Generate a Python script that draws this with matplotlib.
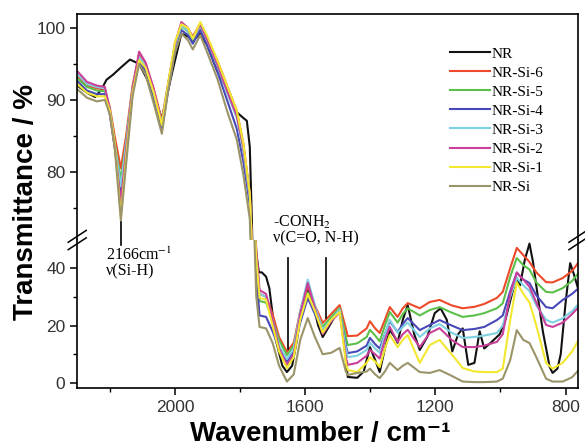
import numpy as np
import matplotlib
matplotlib.use('Agg')
import matplotlib.pyplot as plt

# wavenumber grid for the NR-Si series (cm-1)
wn = [2300, 2270, 2240, 2215, 2200, 2185, 2166, 2150, 2130, 2110, 2090, 2065, 2040, 2020,
      2000, 1980, 1960, 1945, 1922, 1900, 1870, 1840, 1810, 1790, 1770, 1758, 1750, 1740,
      1720, 1700, 1680, 1656, 1635, 1615, 1592, 1570, 1546, 1520, 1494, 1475, 1469, 1440,
      1411, 1401, 1385, 1371, 1355, 1340, 1316, 1300, 1285, 1248, 1217, 1187, 1150, 1116,
      1080, 1050, 1011, 993, 970, 950, 930, 911, 890, 860, 840, 809, 780, 760]

nr_si_6 = [93.3, 92.0, 91.6, 91.5, 89.0, 85.0, 80.5, 85.0, 92.0, 96.3, 95.0, 91.5, 87.2, 92.5,
           97.5, 100.5, 99.8, 98.8, 100.6, 98.5, 95.5, 92.0, 88.5, 84.0, 77.0, 65.0, 45.0, 31.0,
           30.0, 24.0, 16.0, 10.8, 14.0, 25.0, 33.7, 27.0, 20.9, 24.0, 27.1, 19.0, 16.3, 16.5,
           19.0, 21.5, 19.0, 17.4, 22.0, 26.4, 23.0, 26.0, 27.8, 26.0, 28.2, 28.9, 27.0, 26.0,
           26.5, 27.5, 29.6, 31.7, 40.0, 47.0, 44.5, 42.1, 38.5, 35.1, 35.0, 36.5, 39.0, 42.0]
nr_si_5 = [93.0, 91.8, 91.3, 91.2, 88.5, 84.0, 79.0, 84.0, 91.5, 95.7, 94.5, 91.0, 86.8, 92.0,
           97.2, 100.2, 99.5, 98.3, 100.2, 98.2, 95.0, 91.5, 88.0, 83.5, 76.5, 63.0, 42.0, 28.5,
           28.0, 22.0, 15.0, 9.7, 13.0, 23.5, 31.5, 25.5, 19.5, 23.0, 26.0, 16.0, 13.2, 13.8,
           16.0, 18.5, 16.5, 14.5, 20.0, 24.7, 21.0, 24.0, 26.0, 23.5, 25.4, 26.4, 24.5, 23.0,
           23.5, 24.3, 26.0, 27.7, 37.0, 43.5, 41.0, 39.5, 35.0, 31.7, 31.5, 33.0, 35.5, 38.3]
nr_si_4 = [92.6, 91.3, 90.8, 90.8, 88.0, 83.5, 77.0, 83.0, 91.0, 95.3, 94.0, 90.3, 86.0, 91.5,
           96.8, 99.7, 99.0, 97.8, 99.7, 97.5, 94.0, 90.0, 86.0, 81.5, 75.5, 62.0, 38.0, 23.5,
           23.0, 18.0, 12.0, 7.5, 11.0, 21.0, 29.6, 24.0, 18.0, 22.0, 24.5, 13.0, 10.4, 11.0,
           13.0, 15.7, 13.5, 12.0, 17.0, 21.5, 17.7, 20.5, 22.6, 18.4, 20.2, 21.9, 20.0, 18.4,
           18.8, 19.5, 21.9, 23.5, 32.0, 38.3, 36.0, 34.8, 30.5, 26.4, 26.0, 28.9, 31.0, 33.0]
nr_si_3 = [93.6, 92.2, 91.8, 91.6, 88.5, 84.0, 78.0, 84.0, 91.5, 96.0, 94.7, 91.0, 86.8, 92.2,
           97.5, 100.3, 99.6, 98.5, 100.3, 98.2, 94.8, 91.0, 87.5, 83.0, 76.5, 64.0, 44.0, 31.0,
           30.0, 22.0, 13.0, 8.3, 12.0, 25.0, 36.0, 27.0, 18.5, 22.0, 25.5, 12.0, 9.0, 9.5,
           11.5, 14.0, 12.0, 10.5, 17.0, 22.0, 17.5, 19.5, 21.0, 16.0, 19.0, 20.5, 17.5, 15.7,
           16.0, 16.5, 17.4, 20.0, 30.0, 36.5, 34.0, 32.0, 27.0, 22.0, 21.0, 22.5, 25.0, 27.5]
nr_si_2 = [94.0, 92.5, 92.0, 91.8, 88.5, 83.5, 75.8, 83.0, 91.5, 96.7, 95.2, 91.5, 86.5, 92.3,
           97.8, 100.8, 100.0, 98.6, 100.5, 98.3, 95.0, 91.3, 87.8, 83.5, 77.0, 65.0, 46.0, 32.3,
           31.0, 22.0, 12.0, 6.3, 10.0, 24.0, 34.8, 26.0, 17.0, 21.5, 24.5, 9.0, 6.3, 7.0,
           9.5, 11.5, 10.0, 8.5, 15.0, 19.5, 14.3, 17.0, 18.5, 12.5, 17.4, 19.1, 15.0, 12.5,
           12.5, 13.0, 14.3, 17.0, 31.0, 38.5, 36.0, 33.5, 28.0, 20.2, 19.5, 21.0, 24.0, 26.4]
nr_si_1 = [92.2, 91.0, 90.5, 90.5, 88.5, 84.0, 73.8, 82.0, 91.0, 95.5, 94.5, 91.0, 86.5, 92.5,
           98.0, 100.5, 100.0, 98.5, 100.8, 98.8, 95.5, 92.0, 88.5, 84.0, 77.0, 64.0, 43.0, 29.6,
           29.0, 20.0, 11.0, 5.2, 9.0, 22.0, 31.0, 25.0, 17.5, 22.0, 24.7, 7.0, 4.5, 3.8,
           7.0, 9.0, 7.5, 5.5, 12.0, 16.7, 12.5, 15.0, 16.7, 7.0, 13.2, 15.0, 10.0, 5.2,
           4.0, 3.8, 3.8, 5.0, 22.0, 35.0, 31.0, 28.0, 20.0, 7.0, 5.0, 7.0, 11.0, 15.0]
nr_si = [91.5, 90.3, 89.8, 90.0, 88.0, 83.5, 73.3, 81.0, 90.5, 95.0, 93.5, 89.5, 85.3, 91.5,
         96.5, 99.2, 98.3, 97.0, 99.0, 96.5, 93.0, 88.5, 84.5, 79.7, 73.5, 58.0, 30.0, 19.5,
         19.0, 14.0, 6.0, 0.5, 3.0, 15.0, 22.6, 16.0, 10.0, 10.5, 12.2, 4.0, 2.8, 3.5,
         4.0, 5.0, 3.0, 1.7, 4.0, 7.0, 4.5, 6.0, 7.0, 3.8, 3.5, 4.5, 2.5, 0.5,
         0.3, 0.3, 0.5, 1.5, 8.0, 18.4, 15.0, 13.9, 9.0, 1.5, 0.5, 0.5, 2.0, 4.5]

# neat NR has its own sampling (more wiggles)
wn_nr = [2300, 2270, 2245, 2225, 2210, 2190, 2166, 2138, 2110, 2075, 2040, 2010, 1980, 1960,
         1945, 1922, 1900, 1870, 1840, 1810, 1790, 1779, 1770, 1764, 1757, 1750, 1742, 1733,
         1720, 1710, 1690, 1670, 1656, 1640, 1625, 1610, 1592, 1575, 1560, 1546, 1525, 1500,
         1490, 1475, 1469, 1440, 1420, 1401, 1385, 1371, 1355, 1340, 1325, 1316, 1300, 1285,
         1265, 1248, 1225, 1202, 1184, 1165, 1148, 1130, 1116, 1099, 1080, 1064, 1050, 1030,
         1002, 985, 960, 950, 940, 925, 911, 900, 889, 870, 849, 840, 825, 815, 800, 786,
         775, 763]
nr = [92.0, 91.0, 90.4, 91.5, 92.8, 93.5, 94.5, 95.6, 95.0, 92.0, 87.4, 93.5, 99.2, 98.8,
      98.2, 99.2, 97.5, 94.0, 91.5, 88.3, 87.5, 87.1, 83.5, 74.0, 60.0, 45.0, 38.5, 38.5,
      37.0, 33.0, 15.0, 6.0, 3.8, 6.0, 15.0, 27.0, 32.5, 27.0, 20.0, 16.0, 20.0, 25.0,
      24.0, 8.0, 2.1, 1.8, 4.0, 12.5, 8.0, 3.8, 12.0, 18.4, 16.0, 14.0, 22.0, 27.1,
      17.0, 11.5, 16.0, 24.3, 26.0, 22.0, 11.0, 17.0, 19.0, 6.3, 7.0, 18.0, 12.0, 14.0,
      17.0, 22.0, 33.0, 36.5, 34.0, 43.0, 48.5, 42.0, 33.0, 18.0, 5.6, 3.5, 5.0, 10.0, 28.0, 41.7,
      38.0, 33.4]

labels = ['NR', 'NR-Si-6', 'NR-Si-5', 'NR-Si-4', 'NR-Si-3', 'NR-Si-2', 'NR-Si-1', 'NR-Si']
colors = ['#111111', '#ee4a2a', '#5cbf4a', '#4848b8', '#7fd0e0', '#c8409a', '#f2e830', '#9a9468']

serif = ['Liberation Serif', 'DejaVu Serif']
sans = ['Liberation Sans', 'DejaVu Sans']
plt.rcParams['font.family'] = sans

fig = plt.figure(figsize=(5.85, 4.47), dpi=100)
ax_top = fig.add_axes([0.132, 0.463, 0.856, 0.506])
ax_bot = fig.add_axes([0.132, 0.132, 0.856, 0.331])

series = [(wn_nr, nr)] + [(wn, s) for s in [nr_si_6, nr_si_5, nr_si_4, nr_si_3, nr_si_2, nr_si_1, nr_si]]
for ax in (ax_top, ax_bot):
    for (x, y), c, lab in zip(series, colors, labels):
        ax.plot(x, y, color=c, lw=1.5, label=lab)
    ax.set_xlim(2300, 762)
    for s in ax.spines.values():
        s.set_linewidth(1.2)
    ax.tick_params(labelsize=12.5, labelcolor='#333333', direction='out', length=5, width=1.1)
    ax.tick_params(which='minor', length=3, width=1.0)

ax_top.set_ylim(70.56, 101.94)
ax_bot.set_ylim(-1.74, 49.74)
ax_top.set_yticks([80, 90, 100])
ax_top.set_yticks([75, 85, 95], minor=True)
ax_bot.set_yticks([0, 20, 40])
ax_bot.set_yticks([10, 30], minor=True)
ax_top.spines['bottom'].set_visible(False)
ax_bot.spines['top'].set_visible(False)
ax_top.tick_params(axis='x', which='both', bottom=False, labelbottom=False)
ax_bot.set_xticks([2000, 1600, 1200, 800])
ax_bot.set_xticks([2200, 1800, 1400, 1000], minor=True)

# break marks on both spines
for xa in (0.0, 1.0):
    for dy in (-0.025, 0.025):
        ax_bot.plot([xa - 0.018, xa + 0.018], [1 + dy - 0.04, 1 + dy + 0.04], color='k',
                    lw=1.1, transform=ax_bot.transAxes, clip_on=False)

# annotations
ax_bot.plot([2166, 2166], [48.0, 56.0], color='k', lw=1.2, clip_on=False)
ax_bot.text(2212, 47.5, '2166cm$^{-1}$\n\u03bd(Si-H)', family=serif, fontsize=11.5,
            va='top', ha='left', linespacing=0.95, math_fontfamily='stix')
ax_bot.plot([1653, 1653], [43.5, 12.0], color='k', lw=1.2)
ax_bot.plot([1536, 1536], [43.5, 22.5], color='k', lw=1.2)
ax_bot.text(1698, 59.0, '-CONH$_2$\n\u03bd(C=O, N-H)', family=serif, fontsize=11.5,
            va='top', ha='left', linespacing=0.95, math_fontfamily='stix')

leg = ax_top.legend(loc='upper left', bbox_to_anchor=(0.756, 0.912), bbox_transform=fig.transFigure,
                    frameon=False, prop={'family': serif, 'size': 11}, handlelength=2.6,
                    handletextpad=0.15, labelspacing=0.35, borderpad=0)

fig.text(0.045, 0.548, 'Transmittance / %', rotation=90, ha='center', va='center',
         fontsize=20, fontweight='bold')
fig.text(0.547, 0.014, 'Wavenumber / cm\u207b\u00b9', ha='center', va='baseline',
         fontsize=20, fontweight='bold', family=sans)

fig.savefig('out.png', dpi=100)
